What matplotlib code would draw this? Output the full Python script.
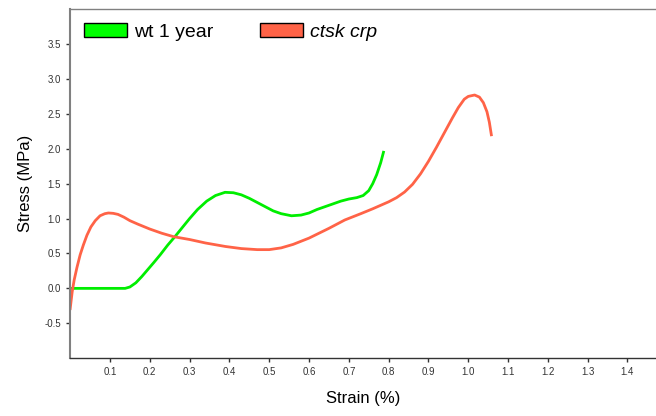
import matplotlib.pyplot as plt
from matplotlib.patches import Patch

plt.rcParams['font.family'] = ['Liberation Sans', 'DejaVu Sans']

# wt 1 year
wt_x = [0, 0.05, 0.10, 0.138, 0.15, 0.165, 0.18, 0.192, 0.21, 0.226, 0.245, 0.263, 0.28,
        0.30, 0.32, 0.343, 0.365, 0.389, 0.41, 0.43, 0.45, 0.47, 0.49, 0.51, 0.53, 0.556,
        0.58, 0.60, 0.62, 0.64, 0.66, 0.68, 0.70, 0.72, 0.736, 0.75, 0.76, 0.77, 0.78, 0.787]
wt_y = [0, 0, 0, 0.0, 0.02, 0.08, 0.17, 0.25, 0.37, 0.48, 0.62, 0.74, 0.86,
        1.00, 1.13, 1.25, 1.33, 1.376, 1.37, 1.34, 1.29, 1.23, 1.17, 1.11, 1.07, 1.04,
        1.05, 1.08, 1.13, 1.17, 1.21, 1.25, 1.28, 1.30, 1.33, 1.40, 1.50, 1.63, 1.80, 1.95]

# ctsk crp
ct_x = [0.0, 0.005, 0.01, 0.017, 0.025, 0.033, 0.042, 0.052, 0.063, 0.075, 0.087, 0.096,
        0.108, 0.12, 0.135, 0.15, 0.17, 0.20, 0.23, 0.26, 0.30, 0.34, 0.39, 0.43, 0.47,
        0.50, 0.53, 0.56, 0.60, 0.65, 0.69, 0.73, 0.76, 0.80, 0.82, 0.84, 0.86, 0.88,
        0.90, 0.92, 0.94, 0.96, 0.975, 0.99, 1.00, 1.016, 1.028, 1.038, 1.047, 1.053, 1.058]
ct_y = [-0.29, -0.05, 0.12, 0.30, 0.48, 0.62, 0.76, 0.88, 0.97, 1.04, 1.07, 1.08,
        1.075, 1.06, 1.02, 0.97, 0.92, 0.85, 0.79, 0.74, 0.70, 0.65, 0.60, 0.57, 0.555,
        0.555, 0.58, 0.63, 0.72, 0.86, 0.98, 1.07, 1.14, 1.24, 1.30, 1.38, 1.49, 1.64,
        1.82, 2.02, 2.23, 2.44, 2.59, 2.71, 2.75, 2.77, 2.74, 2.66, 2.53, 2.38, 2.20]

xticks = [0.1, 0.2, 0.3, 0.4, 0.5, 0.6, 0.7, 0.8, 0.9, 1.0, 1.1, 1.2, 1.3, 1.4]
yticks = [-0.5, 0.0, 0.5, 1.0, 1.5, 2.0, 2.5, 3.0, 3.5]

green = '#00ee00'
red = '#ff6347'

fig = plt.figure(figsize=(6.56, 4.16), dpi=100)
ax = fig.add_axes([0.107, 0.139, 0.892, 0.839])

ax.plot(wt_x, wt_y, color=green, lw=2, solid_joinstyle='round')
ax.plot(ct_x, ct_y, color=red, lw=2, solid_joinstyle='round')

ax.set_xlim(0, 1.47)
ax.set_ylim(-1, 4)
ax.set_xticks(xticks)
ax.set_xticklabels(['%.1f' % v for v in xticks])
ax.set_yticks(yticks)
ax.set_yticklabels(['%.1f' % v for v in yticks])
ax.tick_params(labelsize=7, length=3, width=1, colors='#333333')

for s in ['left', 'top']:
    ax.spines[s].set_color('#808080')
ax.spines['left'].set_linewidth(1.5)
ax.spines['top'].set_linewidth(1)
ax.spines['bottom'].set_color('#333333')
ax.spines['bottom'].set_linewidth(1)
ax.spines['right'].set_visible(False)

ax.set_xlabel('Strain (%)', fontsize=12, labelpad=10)
ax.set_ylabel('Stress (MPa)', fontsize=12, labelpad=8)

handles = [Patch(facecolor='#00ff00', edgecolor='black', lw=1),
           Patch(facecolor=red, edgecolor='black', lw=1)]
leg = ax.legend(handles, ['wt 1 year', 'ctsk crp'], loc='upper left', ncol=2,
                frameon=False, fontsize=14, handlelength=2.2, handleheight=0.78,
                columnspacing=2.4, handletextpad=0.38, borderaxespad=0.3,
                bbox_to_anchor=(0.0, 1.0))
leg.get_texts()[1].set_style('italic')

fig.savefig('out.png', dpi=100)
